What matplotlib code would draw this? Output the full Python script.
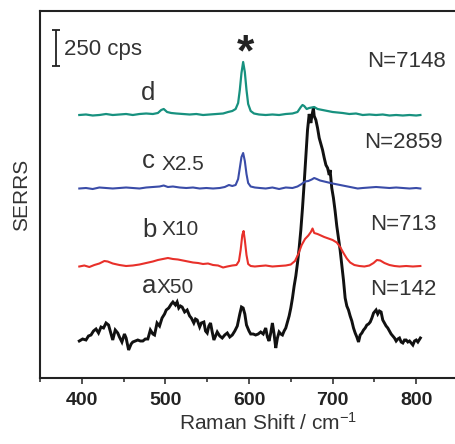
import matplotlib
matplotlib.use("Agg")
import matplotlib.pyplot as plt

plt.rcParams['font.family'] = ['Liberation Sans', 'DejaVu Sans']
plt.rcParams['mathtext.fontset'] = 'custom'
plt.rcParams['mathtext.rm'] = 'Liberation Sans'
plt.rcParams['mathtext.it'] = 'Liberation Sans:italic'

# ---- data (intensity in arbitrary offset units) ----
x_d = [397, 405, 413, 421, 429, 437, 445, 453, 461, 469, 477, 485, 491, 495, 498, 502, 507, 513, 521,
       529, 537, 545, 553, 561, 569, 575, 580, 584, 587, 589, 591, 593, 595, 597, 599, 602, 606, 612,
       620, 628, 636, 644, 652, 658, 662, 664, 666, 669, 672, 675, 678, 682, 688, 694, 700, 706, 712,
       720, 728, 736, 744, 752, 760, 768, 776, 784, 792, 800, 805]
y_d = [263, 263.5, 262.5, 263, 264, 263, 263.5, 264, 263, 264, 264.5, 264, 265, 268, 269, 266, 265,
       264.5, 264, 263.5, 264, 263, 263.5, 264, 264.5, 266, 267, 269, 275, 288, 305, 316, 306, 288,
       274, 267, 264.5, 263.5, 263, 263.5, 263, 264, 264.5, 266, 271, 273, 272, 269, 270, 270.5, 271,
       269, 268, 267, 266, 265.5, 265, 264, 264.5, 263, 263.5, 263, 263.5, 262.5, 263, 262.5, 263,
       262.5, 263]

x_c = [397, 405, 413, 421, 429, 437, 445, 453, 461, 469, 477, 485, 493, 498, 503, 509, 517, 525, 533,
       541, 549, 557, 565, 571, 576, 580, 584, 587, 589, 591, 593, 595, 597, 599, 602, 607, 613, 620,
       628, 636, 644, 652, 658, 663, 667, 671, 675, 678, 681, 685, 690, 695, 700, 706, 712, 718, 724,
       730, 736, 744, 752, 760, 768, 776, 784, 792, 800, 805]
y_c = [189.5, 190, 189, 190.5, 190, 189.5, 190, 190.5, 190, 189.5, 190.5, 191, 191.5, 192.5, 191,
       191.5, 190.5, 190, 190.5, 189.5, 190, 189.5, 190, 191, 193, 192, 193, 199, 210, 221, 225, 217,
       204, 195, 191.5, 190.5, 190, 189.5, 190.5, 189, 190.5, 190, 191.5, 194, 196.5, 197, 198.5, 200,
       199, 197.5, 196.5, 195.5, 194.5, 193.5, 192.5, 191.5, 190.5, 189.5, 190, 190.5, 191, 190.5,
       190, 190.5, 190, 189.5, 190, 189.5]

x_b = [397, 403, 409, 415, 421, 427, 431, 437, 445, 453, 461, 469, 477, 485, 491, 497, 503, 509, 515,
       521, 527, 533, 539, 545, 551, 557, 563, 569, 574, 580, 585, 588, 590, 592, 593.5, 595, 597, 599,
       602, 607, 613, 620, 628, 636, 644, 650, 655, 659, 663, 667, 671, 674, 676, 678, 682, 686, 690,
       695, 700, 705, 709, 713, 717, 721, 726, 732, 738, 744, 749, 753, 757, 762, 768, 774, 780, 788,
       796, 805]
y_b = [111.5, 112.5, 111, 113, 114.5, 117, 116.5, 114.5, 113, 112, 112.5, 113.5, 115, 116.5, 118,
       119, 120, 119, 118.5, 117.5, 116.5, 115.5, 115, 114, 114.5, 113, 112.5, 110.5, 111.5, 112.5,
       113, 117, 128, 143, 147, 138, 123, 114, 112, 111.5, 112, 112.5, 111.5, 112, 112.5, 113.5, 117,
       124, 133, 139, 142.5, 146, 149.5, 145, 144, 142.5, 141, 139.5, 138, 135.5, 131, 125, 119.5,
       115.5, 113, 112, 111.5, 112.5, 115, 118, 117.5, 115, 113, 112, 111.5, 112, 111.5, 112]

x_a = [397, 401, 405, 408, 411, 414, 417, 420, 423, 426, 429, 432, 434, 437, 440, 443, 445, 448, 451,
       453, 456, 459, 461, 464, 467, 470, 473, 476, 479, 482, 485, 487, 490, 493, 496, 499, 501, 504,
       507, 509, 512, 514, 516, 518, 520, 523, 526, 529, 531, 534, 536, 538, 541, 543, 546, 548, 550,
       552, 554, 556, 558, 560, 562, 565, 568, 571, 574, 577, 580, 583, 586, 589, 591, 593, 595, 597,
       600, 602, 605, 608, 611, 614, 617, 620, 622, 624, 626, 628, 630, 632, 634, 636, 638, 640, 642,
       644, 646, 648, 650, 652, 654, 656, 658, 660, 662, 664, 666, 668, 670, 672, 674, 675, 677, 678,
       680, 682, 684, 686, 688, 690, 692, 694, 696, 697, 699, 701, 703, 705, 707, 709, 711, 713, 715,
       717, 719, 721, 723, 725, 727, 729, 731, 733, 735, 737, 739, 741, 743, 745, 747, 749, 751, 752,
       754, 756, 758, 760, 762, 764, 766, 768, 770, 772, 774, 776, 778, 780, 782, 784, 786, 788, 790,
       792, 794, 796, 798, 800, 802, 805]
y_a = [37, 39, 38, 42, 43, 47, 49, 45, 51, 50, 55, 53, 47, 38, 48, 45, 41, 36, 44, 40, 28, 34, 36,
       37, 38, 37, 37, 39, 39, 48, 44, 43, 55, 52, 60, 64, 68, 70, 74, 76, 73, 76, 70, 72, 71, 66, 68,
       62, 60, 55, 59, 58, 51, 55, 56, 47, 45, 52, 55, 46, 38, 42, 46, 42, 40, 43, 45, 41, 43, 47, 52,
       64, 71, 70, 64, 53, 47, 44, 44, 43, 44, 46, 44, 50, 41, 37, 45, 55, 44, 30, 40, 46, 44, 43, 47,
       50, 56, 62, 70, 80, 92, 102, 115, 130, 148, 170, 195, 222, 248, 264, 255, 261, 270, 262, 258,
       250, 240, 234, 228, 220, 213, 210, 203, 208, 190, 180, 167, 152, 140, 128, 113, 98, 80, 72, 68,
       62, 57, 50, 45, 41, 36, 43, 45, 48, 50, 53, 54, 56, 60, 65, 67, 68, 64, 67, 66, 58, 55, 52, 50,
       47, 44, 42, 40, 37, 39, 40, 36, 35, 38, 38, 36, 37, 35, 33, 37, 38, 36, 40]

trace_labels = ['a', 'b', 'c', 'd']
factor_labels = ['X50', 'X10', 'X2.5', '']
n_labels = ['N=142', 'N=713', 'N=2859', 'N=7148']
colors = ['#111111', '#e8302a', '#3a4ca8', '#17917f']
xticks = [400, 500, 600, 700, 800]
xticks_minor = [350, 450, 550, 650, 750, 850]

fig = plt.figure(figsize=(4.55, 4.44), dpi=100)
ax = fig.add_axes([40 / 455, 66 / 444, 418 / 455, 367 / 444])

ax.plot(x_a, y_a, color=colors[0], lw=2.1, zorder=2, solid_joinstyle='miter')
ax.plot(x_b, y_b, color=colors[1], lw=1.5, zorder=3)
ax.plot(x_c, y_c, color=colors[2], lw=1.5, zorder=3)
ax.plot(x_d, y_d, color=colors[3], lw=1.6, zorder=3)

ax.set_xlim(350, 850)
ax.set_ylim(0, 367)
ax.set_xticks(xticks)
ax.set_xticks(xticks_minor, minor=True)
ax.set_yticks([])
for lab in ax.get_xticklabels():
    lab.set_fontweight('bold')
ax.tick_params(axis='x', which='major', direction='out', length=4.2, width=1.1,
               labelsize=14, pad=6, colors='#222222')
ax.tick_params(axis='x', which='minor', direction='out', length=3.2, width=1.1, colors='#222222')
for s in ['left', 'top', 'bottom']:
    ax.spines[s].set_linewidth(1.5)
    ax.spines[s].set_color('#222222')
ax.spines['right'].set_visible(False)

ax.set_xlabel('Raman Shift / cm$^{-1}$', fontsize=15, color='#333333')
ax.xaxis.label.set_va('baseline')
ax.xaxis.set_label_coords(0.545, -0.1417)
ax.set_ylabel('SERRS', fontsize=15, color='#333333')
ax.yaxis.label.set_va('baseline')
ax.yaxis.set_label_coords(-0.032, 0.5)

# scale bar (250 cps)
ax.errorbar([369], [330], yerr=[18], color='#222222', lw=1.3, capsize=3, capthick=1.3)
ax.text(378.5, 323, '250 cps', fontsize=16, color='#333333', va='baseline', ha='left')
ax.text(595.8, 313, '*', fontsize=32, fontweight='bold', color='#222222', va='baseline', ha='center')

# trace labels
lab_x = [471.6, 472.8, 471.6, 470.4]
lab_y = [85.3, 141.3, 209.7, 278]
fac_x = [489.5, 495.5, 495.5, 0]
fac_y = [84.7, 143, 208, 0]
n_x = [745, 745, 737.9, 741.5]
n_y = [83, 148, 229.7, 311.3]
for i in range(4):
    ax.text(lab_x[i], lab_y[i], trace_labels[i], fontsize=18.5, color='#333333', va='baseline')
    if factor_labels[i]:
        ax.text(fac_x[i], fac_y[i], factor_labels[i], fontsize=15, color='#333333', va='baseline')
    ax.text(n_x[i], n_y[i], n_labels[i], fontsize=16, color='#333333', va='baseline')

fig.savefig('out.png', dpi=100)
